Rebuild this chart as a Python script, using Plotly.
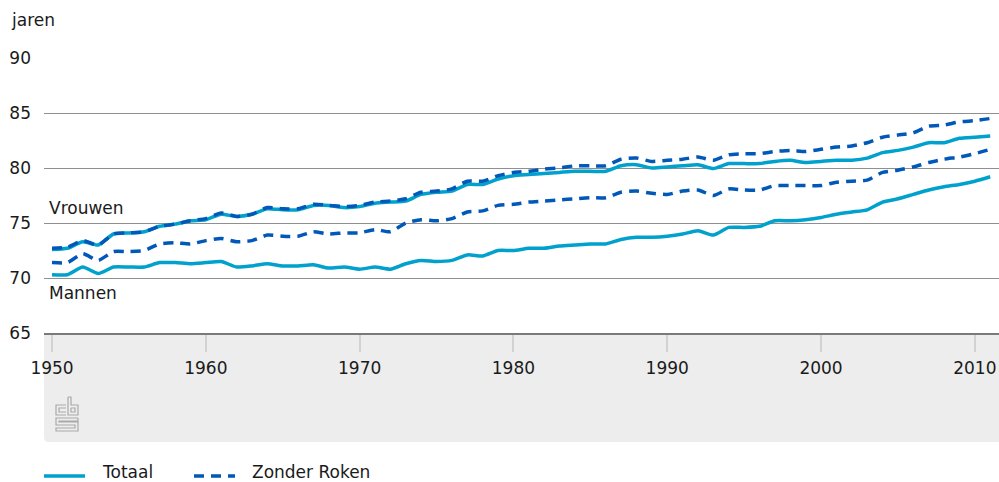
import plotly.graph_objects as go

years = list(range(1950, 2012))

vrouwen_totaal = [72.6, 72.7, 73.3, 73.0, 74.0, 74.1, 74.2, 74.7, 74.9, 75.2,
                  75.3, 75.8, 75.6, 75.8, 76.3, 76.2, 76.2, 76.6, 76.6, 76.4,
                  76.5, 76.8, 76.9, 77.0, 77.6, 77.8, 77.9, 78.5, 78.5, 79.0,
                  79.3, 79.4, 79.5, 79.6, 79.7, 79.7, 79.7, 80.2, 80.3, 80.0,
                  80.1, 80.2, 80.3, 79.95, 80.4, 80.4, 80.4, 80.6, 80.7, 80.5,
                  80.6, 80.7, 80.7, 80.9, 81.4, 81.6, 81.9, 82.3, 82.3, 82.7,
                  82.8, 82.9]

vrouwen_zonder_roken = [72.7, 72.8, 73.4, 73.0, 74.0, 74.1, 74.2, 74.7, 74.9, 75.2,
                        75.4, 75.9, 75.6, 75.8, 76.4, 76.3, 76.3, 76.7, 76.6, 76.5,
                        76.6, 76.9, 77.0, 77.2, 77.8, 77.9, 78.1, 78.8, 78.8, 79.3,
                        79.6, 79.7, 79.9, 80.0, 80.2, 80.2, 80.2, 80.8, 80.9, 80.6,
                        80.7, 80.8, 81.0, 80.7, 81.2, 81.3, 81.3, 81.5, 81.6, 81.5,
                        81.7, 81.9, 82.0, 82.3, 82.8, 83.0, 83.2, 83.8, 83.9, 84.2,
                        84.3, 84.5]

mannen_totaal = [70.3, 70.3, 71.0, 70.4, 71.0, 71.0, 71.0, 71.4, 71.4, 71.3,
                 71.4, 71.5, 71.0, 71.1, 71.3, 71.1, 71.1, 71.2, 70.9, 71.0,
                 70.8, 71.0, 70.8, 71.3, 71.6, 71.5, 71.6, 72.1, 72.0, 72.5,
                 72.5, 72.7, 72.7, 72.9, 73.0, 73.1, 73.1, 73.5, 73.7, 73.7,
                 73.8, 74.0, 74.3, 73.9, 74.6, 74.6, 74.7, 75.2, 75.2, 75.3,
                 75.5, 75.8, 76.0, 76.2, 76.9, 77.2, 77.6, 78.0, 78.3, 78.5,
                 78.8, 79.2]

mannen_zonder_roken = [71.4, 71.4, 72.2, 71.6, 72.4, 72.4, 72.5, 73.1, 73.2, 73.1,
                       73.4, 73.6, 73.3, 73.4, 73.9, 73.8, 73.8, 74.2, 74.0, 74.1,
                       74.1, 74.4, 74.2, 75.0, 75.3, 75.2, 75.4, 76.0, 76.1, 76.6,
                       76.7, 76.9, 77.0, 77.1, 77.2, 77.3, 77.3, 77.8, 77.9, 77.7,
                       77.6, 77.9, 78.0, 77.5, 78.1, 78.0, 78.0, 78.4, 78.4, 78.4,
                       78.4, 78.7, 78.8, 78.9, 79.6, 79.8, 80.1, 80.5, 80.8, 81.0,
                       81.3, 81.7]

y_ticks = [65, 70, 75, 80, 85, 90]
x_ticks = [1950, 1960, 1970, 1980, 1990, 2000, 2010]
x_tick_labels = ["1950", "1960", "1970", "1980", "1990", "2000", "2010"]

series_names = ["Totaal", "Zonder Roken"]
group_labels = ["Vrouwen", "Mannen"]

SOLID = "#00a1cd"
DASHED = "#0058b8"
FONT = "DejaVu Sans"
TXT = "#1a1a1a"
DASH = "10px,7px"

W, H = 999, 482
L, R, T, B = 44, 0, 58, 149
PW, PH = W - L - R, H - T - B


def px(x):
    return (x - L) / PW


def py(y):
    return (H - B - y) / PH


fig = go.Figure()

# solid lines first, dashed on top
for vals, grp in [(mannen_totaal, group_labels[1]), (vrouwen_totaal, group_labels[0])]:
    fig.add_trace(go.Scatter(
        x=years, y=vals, mode="lines", name=f"{series_names[0]} – {grp}",
        showlegend=False,
        line=dict(color=SOLID, width=3.5, shape="spline", smoothing=0.6),
        hoverinfo="x+y"))
for vals, grp in [(mannen_zonder_roken, group_labels[1]), (vrouwen_zonder_roken, group_labels[0])]:
    fig.add_trace(go.Scatter(
        x=years, y=vals, mode="lines", name=f"{series_names[1]} – {grp}",
        showlegend=False,
        line=dict(color=DASHED, width=3.5, dash=DASH, shape="spline", smoothing=0.6),
        hoverinfo="x+y"))

shapes = []
# grey band under the x axis with rounded bottom-left corner
r = 5
x0, x1 = px(44), px(999)
y0, y1 = py(333), py(442)
rx, ry = r / PW, r / PH
shapes.append(dict(
    type="path", xref="paper", yref="paper", layer="below",
    path=(f"M {x0},{y0} L {x1},{y0} L {x1},{y1} L {x0 + rx},{y1} "
          f"Q {x0},{y1} {x0},{y1 + ry} Z"),
    fillcolor="#ededed", line=dict(width=0)))

# cbs logo (decorative)
logo = "#a9a9a9"


def seg(pts):
    return "M " + " L ".join(f"{px(a)},{py(b)}" for a, b in pts)


logo_paths = [
    [(66, 405), (56, 405), (56, 415), (66, 415)],
    [(66, 408), (59, 408), (59, 412), (66, 412)],
    [(68, 397), (68, 415), (78, 415), (78, 405), (71, 405), (71, 397), (68, 397)],
    [(71, 408), (75, 408), (75, 412), (71, 412), (71, 408)],
    [(78, 418), (56, 418), (56, 425), (75, 425), (75, 428), (56, 428), (56, 431), (78, 431),
     (78, 422), (59, 422), (59, 421), (78, 421), (78, 418)],
]
for p in logo_paths:
    shapes.append(dict(type="path", xref="paper", yref="paper", path=seg(p),
                       line=dict(color=logo, width=1.2)))

# legend keys
shapes.append(dict(type="line", xref="paper", yref="paper",
                   x0=px(44), x1=px(85), y0=py(476), y1=py(476),
                   line=dict(color=SOLID, width=3.5)))
shapes.append(dict(type="line", xref="paper", yref="paper",
                   x0=px(194), x1=px(235), y0=py(476), y1=py(476),
                   line=dict(color=DASHED, width=3.5, dash=DASH)))


def label(text, x, y):
    return dict(text=text, x=px(x), y=py(y), xref="paper", yref="paper",
                xanchor="left", yanchor="middle", showarrow=False,
                font=dict(family=FONT, size=17, color=TXT))


annotations = [
    label("jaren", 9, 20),
    label(group_labels[0], 47, 208),
    label(group_labels[1], 47, 293),
    label(series_names[0], 100, 472),
    label(series_names[1], 250, 472),
]

fig.update_layout(
    width=W, height=H,
    margin=dict(l=L, r=R, t=T, b=B, pad=0),
    paper_bgcolor="white", plot_bgcolor="white",
    font=dict(family=FONT, size=17, color=TXT),
    shapes=shapes, annotations=annotations,
    showlegend=False,
    hovermode="closest",
)

fig.update_xaxes(
    range=[1949.48, 2011.57], tickvals=x_ticks, ticktext=x_tick_labels,
    showgrid=False, zeroline=False,
    showline=True, linecolor="#7a7a7a", linewidth=1.5,
    ticks="outside", ticklen=17, tickwidth=2, tickcolor="#d2d2d2",
    ticklabelstandoff=2,
    tickfont=dict(family=FONT, size=17, color=TXT),
    fixedrange=True,
)
fig.update_yaxes(
    range=[65, 90], tickvals=y_ticks,
    showgrid=True, gridcolor="#8f8f8f", gridwidth=1.2,
    zeroline=False, showline=False, ticks="",
    ticklabelstandoff=12,
    tickfont=dict(family=FONT, size=17, color=TXT),
    fixedrange=True,
)

fig.write_html("out.html", config={"displayModeBar": False},
               post_script="document.body.style.margin='0';document.body.style.overflow='hidden';")
